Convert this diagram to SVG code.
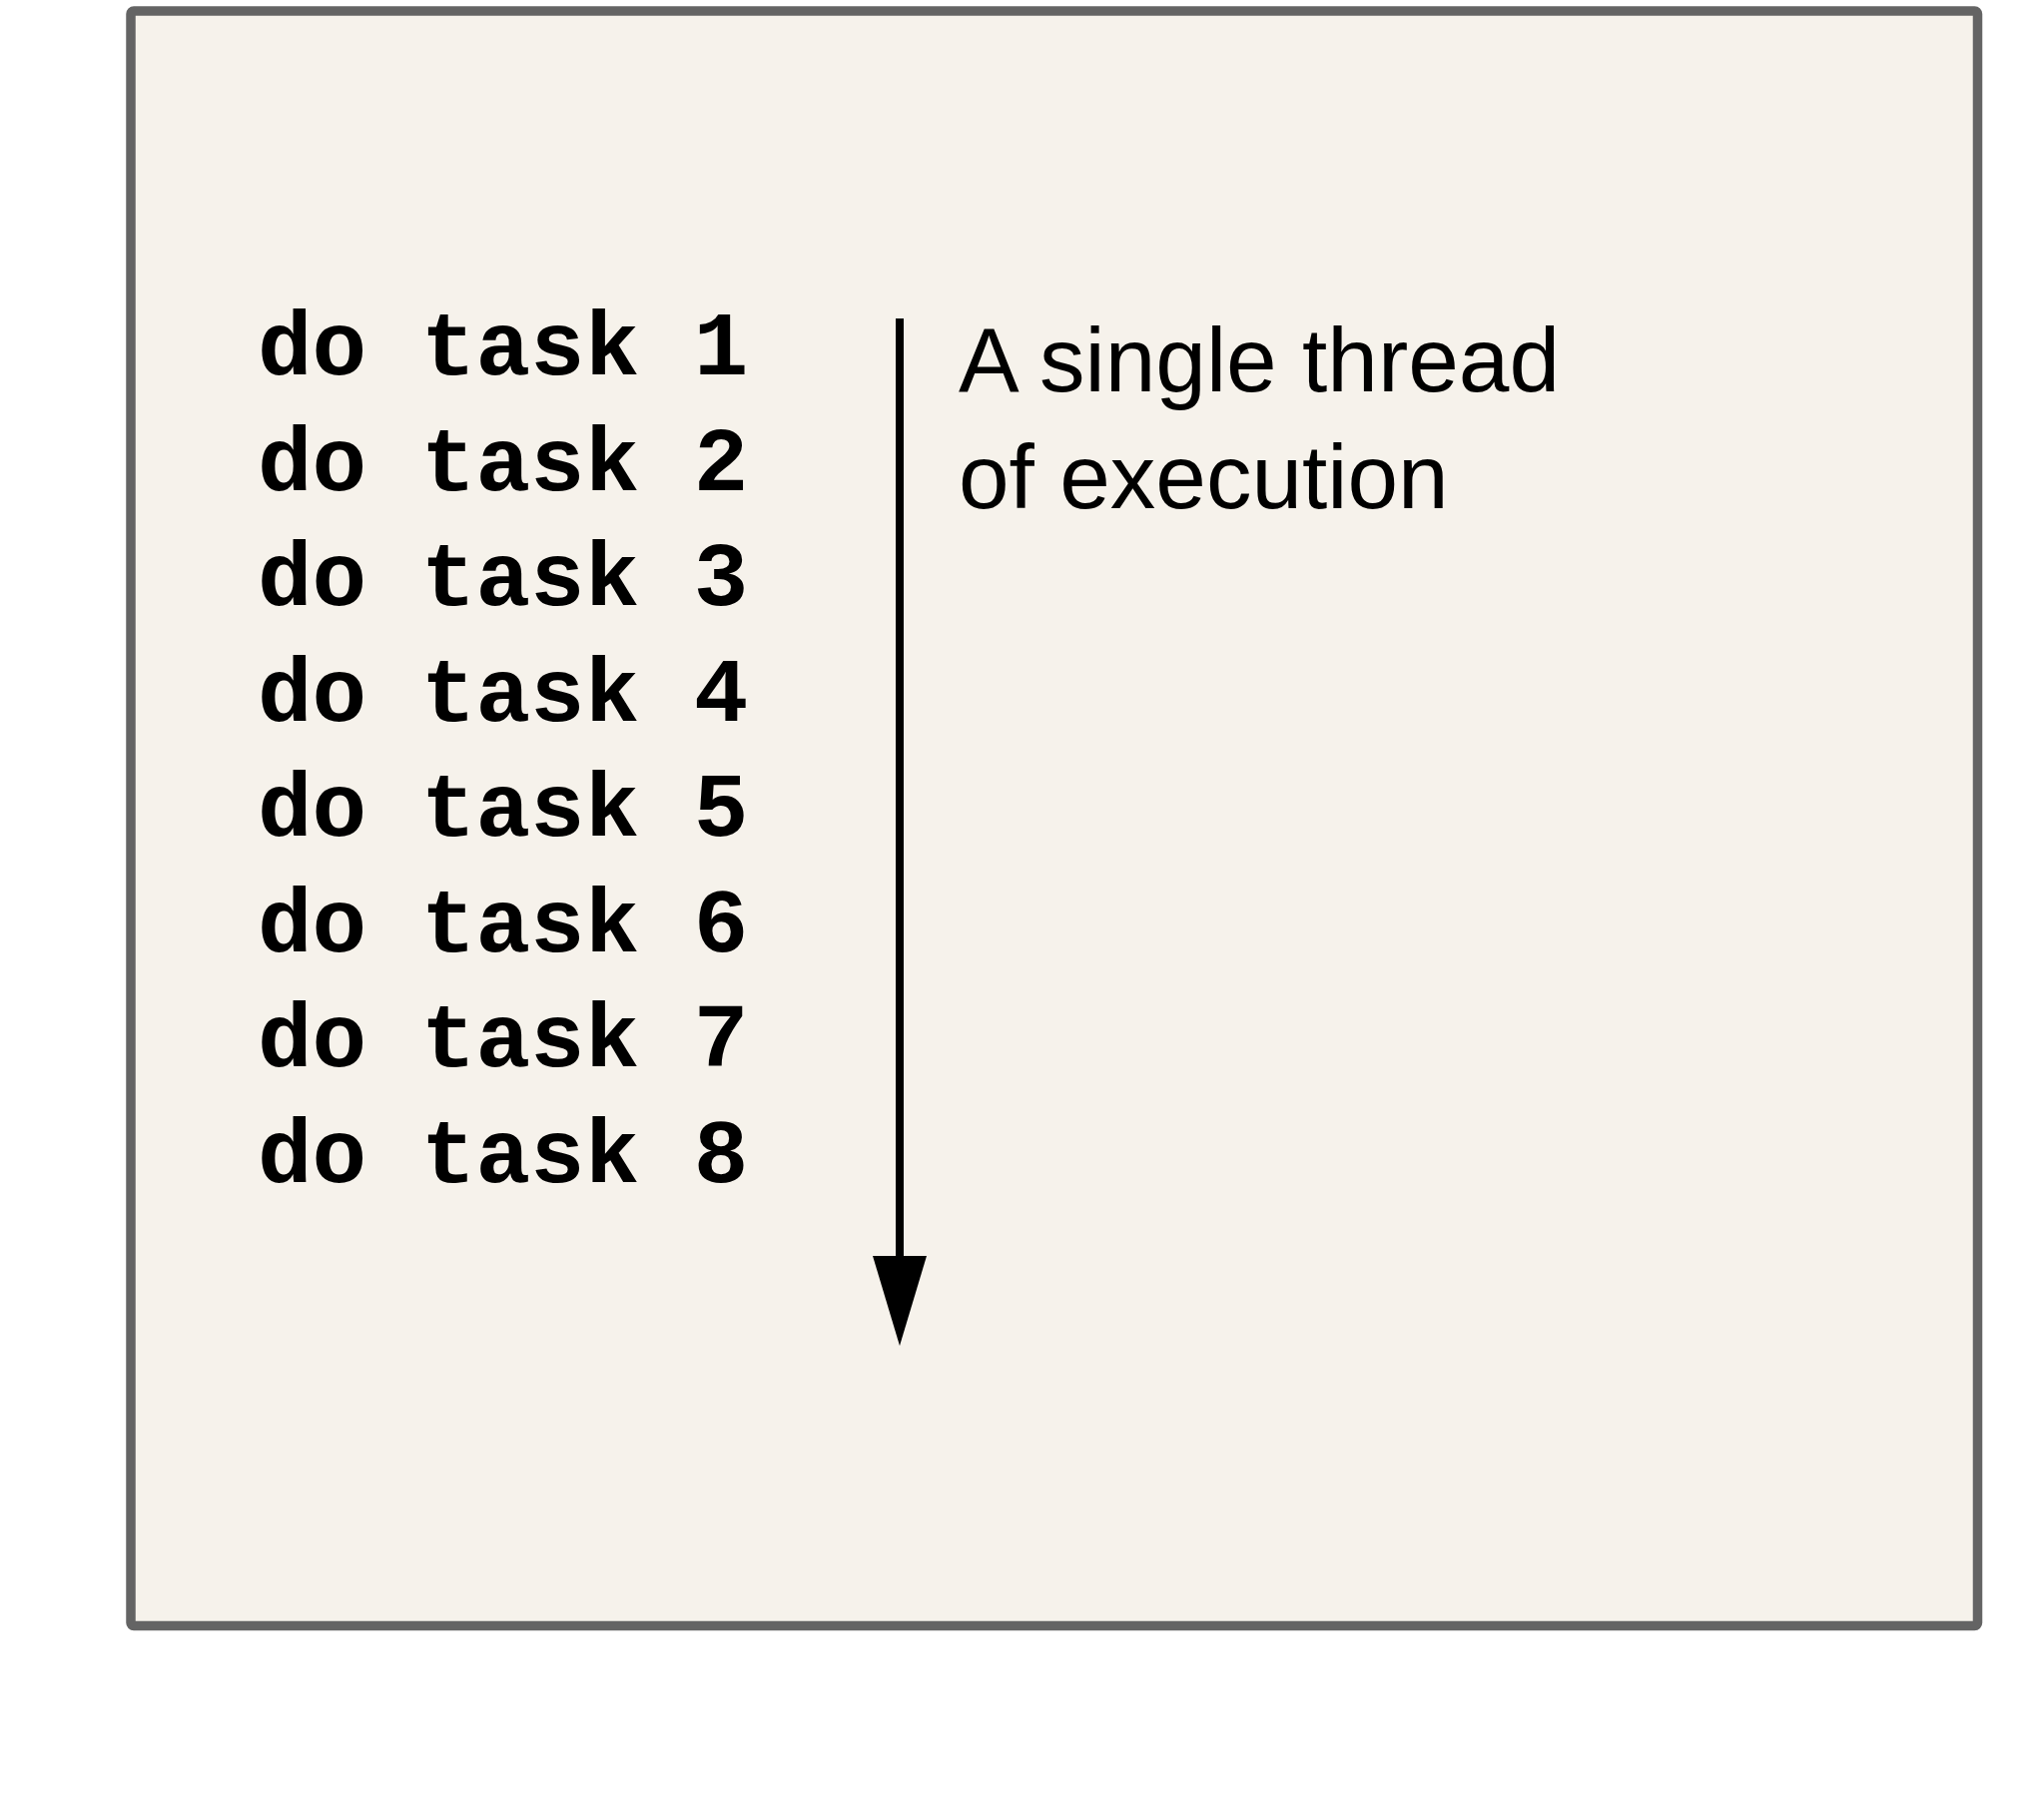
<svg xmlns="http://www.w3.org/2000/svg" width="2047" height="1813" viewBox="0 0 2047 1813">
<style>
.frame{fill:#f6f2eb;stroke:#646464;stroke-width:9.5}
.code{font-family:"Liberation Mono","Courier New",monospace;font-weight:bold;font-size:91px;fill:#000}
.label{font-family:"Liberation Sans",Arial,sans-serif;font-size:91px;fill:#000}
.conn{stroke:#000;stroke-width:8;fill:none}
</style>
<defs>
<marker id="arrow" markerUnits="userSpaceOnUse" markerWidth="90" markerHeight="54" refX="0" refY="27" orient="auto" viewBox="0 0 90 54">
<path d="M0,0 L90,27 L0,54 Z" fill="#000"/>
</marker>
</defs>
<rect width="2047" height="1813" fill="#fff"/>
<g id="frame">
<rect class="frame" x="131" y="11" width="1849.5" height="1617.5" rx="3"/>
</g>
<g id="tasks">
<text class="code" x="258" y="375">do task 1</text>
<text class="code" x="258" y="490.5">do task 2</text>
<text class="code" x="258" y="606">do task 3</text>
<text class="code" x="258" y="721.5">do task 4</text>
<text class="code" x="258" y="837">do task 5</text>
<text class="code" x="258" y="952.5">do task 6</text>
<text class="code" x="258" y="1068">do task 7</text>
<text class="code" x="258" y="1183.5">do task 8</text>
</g>
<g id="label">
<text class="label" x="960" y="392">A single thread</text>
<text class="label" x="960" y="508.5">of execution</text>
</g>
<g id="connectors">
<line class="conn" x1="901" y1="319" x2="901" y2="1258" marker-end="url(#arrow)"/>
</g>
</svg>
